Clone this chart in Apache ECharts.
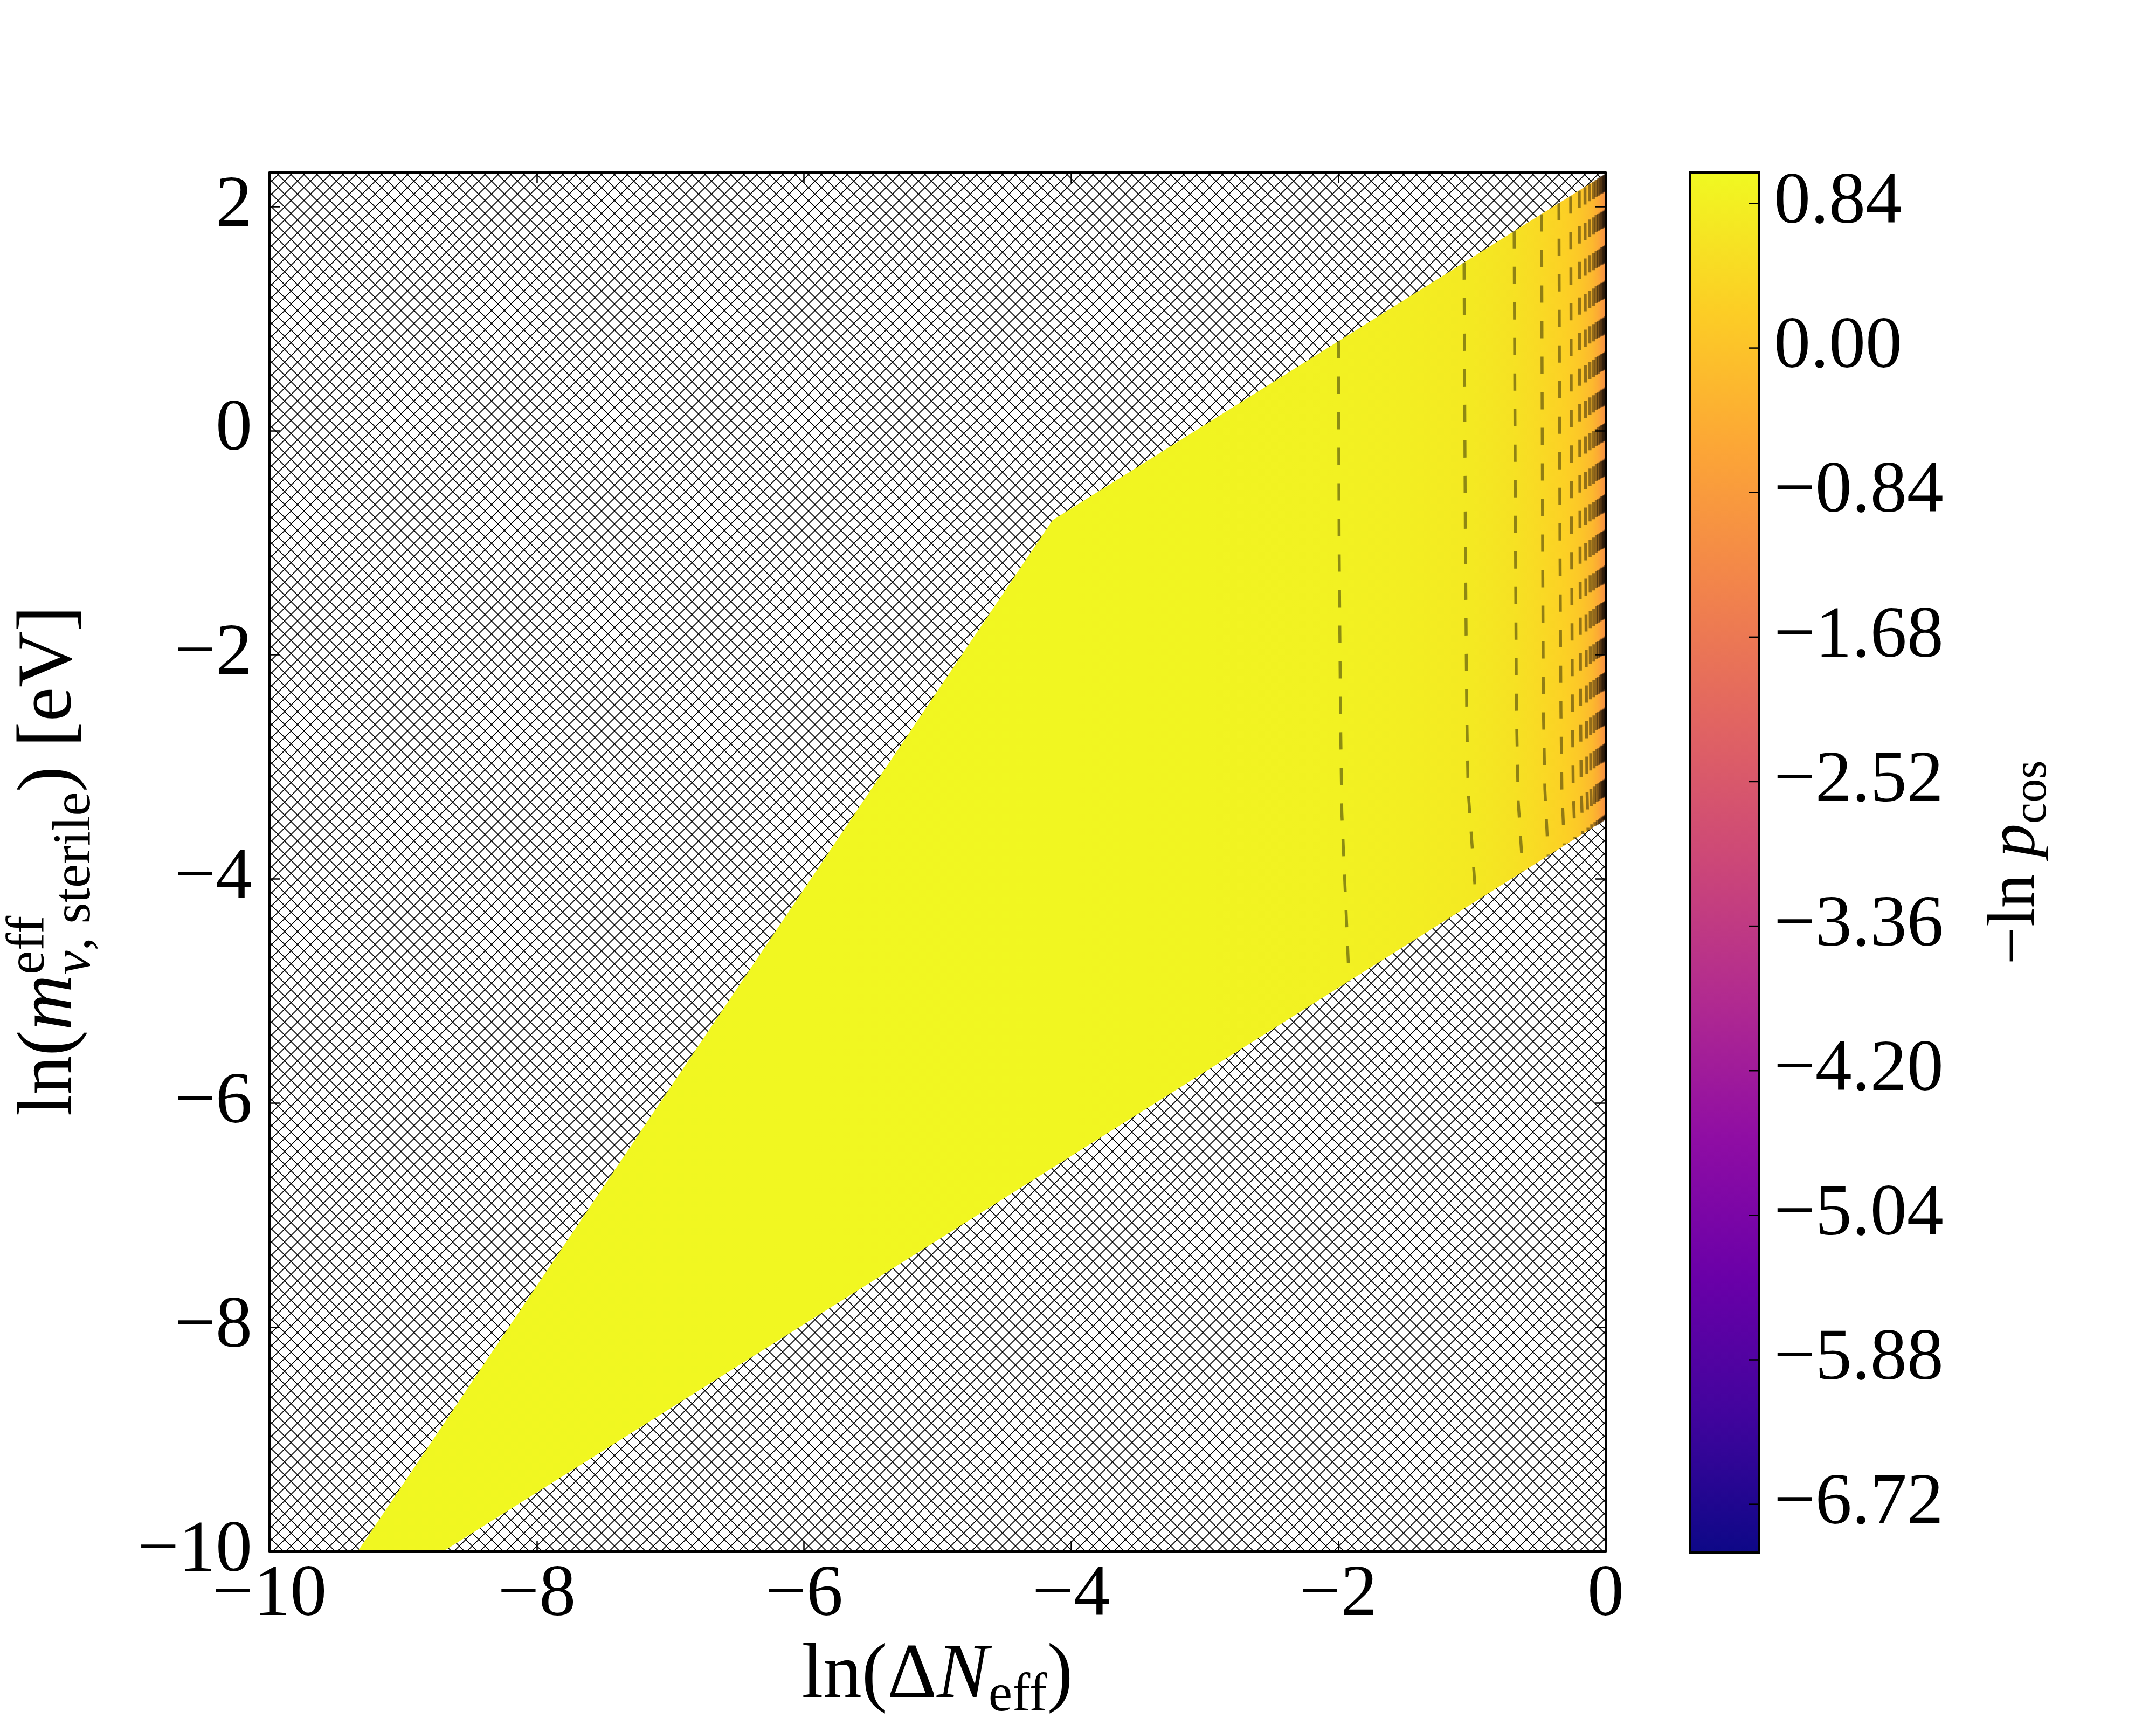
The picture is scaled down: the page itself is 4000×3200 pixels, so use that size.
<!DOCTYPE html>
<html>
<head>
<meta charset="utf-8">
<script src="https://cdn.jsdelivr.net/npm/echarts@6/dist/echarts.min.js"></script>
<style>
  html, body { margin: 0; padding: 0; background: #fff; }
  #main { width: 4000px; height: 3200px; }
</style>
</head>
<body>
<div id="main"></div>
<script>
// axis ticks
const xTicks = [-10, -8, -6, -4, -2, 0];
const yTicks = [-10, -8, -6, -4, -2, 0, 2];
const yMax = 2.302585; // ln(10)
const cbTicks = [-6.72, -5.88, -5.04, -4.20, -3.36, -2.52, -1.68, -0.84, 0.00, 0.84];
const cbRange = [-7.0, 1.02];

// allowed region (outline)
const regionX = [-9.34, -4.14, 0, 0, -8.70];
const regionY = [-10, -0.80, 2.29, -3.47, -10];

// -ln p_cos along ln(dN_eff) (it barely changes with mass)
const fieldX = [-10, -6, -4, -3, -2, -1.5, -1, -0.7, -0.5, -0.3, -0.2, -0.1, -0.05, 0];
const fieldVal = [0.99, 0.98, 0.96, 0.93, 0.88, 0.82, 0.72, 0.60, 0.45, 0.25, 0.10, -0.20, -0.55, -1.15];

// dashed contour lines, [x, y] points from top edge to bottom edge
const contours = [
  [[-2.00, 0.80], [-1.995, -1.0], [-1.985, -2.5], [-1.975, -3.4], [-1.92, -4.92]],
  [[-1.06, 1.50], [-1.05, -1.0], [-1.04, -2.5], [-1.03, -3.2], [-0.97, -4.20]],
  [[-0.685, 1.78], [-0.675, -1.0], [-0.668, -2.5], [-0.655, -3.3], [-0.62, -3.94]],
  [[-0.48, 1.93], [-0.472, -1.0], [-0.466, -2.5], [-0.455, -3.2], [-0.43, -3.80]],
  [[-0.35, 2.03], [-0.342, -1.0], [-0.335, -2.5], [-0.328, -3.2], [-0.31, -3.70]],
  [[-0.262, 2.09], [-0.255, -1.0], [-0.249, -2.5], [-0.243, -3.2], [-0.23, -3.64]],
  [[-0.198, 2.14], [-0.192, -1.0], [-0.188, -2.5], [-0.183, -3.2], [-0.172, -3.60]],
  [[-0.155, 2.17], [-0.150, -1.0], [-0.144, -2.5], [-0.140, -3.2], [-0.132, -3.57]],
  [[-0.120, 2.20], [-0.117, -1.0], [-0.114, -2.5], [-0.111, -3.2], [-0.104, -3.55]],
  [[-0.092, 2.22], [-0.090, -1.0], [-0.088, -2.5], [-0.086, -3.2], [-0.080, -3.53]],
  [[-0.072, 2.24], [-0.070, -1.0], [-0.068, -2.5], [-0.066, -3.2], [-0.062, -3.52]],
  [[-0.056, 2.25], [-0.054, -1.0], [-0.053, -2.5], [-0.051, -3.2], [-0.048, -3.51]],
  [[-0.043, 2.26], [-0.042, -1.0], [-0.041, -2.5], [-0.040, -3.2], [-0.037, -3.50]],
  [[-0.032, 2.27], [-0.031, -1.0], [-0.030, -2.5], [-0.029, -3.2], [-0.027, -3.49]],
  [[-0.023, 2.27], [-0.022, -1.0], [-0.021, -2.5], [-0.021, -3.2], [-0.019, -3.48]],
  [[-0.015, 2.28], [-0.015, -1.0], [-0.014, -2.5], [-0.014, -3.2], [-0.012, -3.48]],
  [[-0.009, 2.28], [-0.009, -1.0], [-0.008, -2.5], [-0.008, -3.2], [-0.007, -3.47]],
  [[-0.004, 2.29], [-0.004, -1.0], [-0.004, -2.5], [-0.004, -3.2], [-0.003, -3.47]]
];

const FONT = 'Liberation Serif';
const plasmaStops = ['#0d0887', '#41049d', '#6a00a8', '#8f0da4', '#b12a90', '#cc4778',
  '#e16462', '#f2844b', '#fca636', '#fcce25', '#f0f921'];

function hexRgb(h) {
  return [parseInt(h.slice(1, 3), 16), parseInt(h.slice(3, 5), 16), parseInt(h.slice(5, 7), 16)];
}
function plasma(t) {
  t = Math.min(1, Math.max(0, t));
  const p = t * 10, i = Math.min(9, Math.floor(p)), f = p - i;
  const a = hexRgb(plasmaStops[i]), b = hexRgb(plasmaStops[i + 1]);
  const c = a.map((v, k) => Math.round(v + (b[k] - v) * f));
  return 'rgb(' + c.join(',') + ')';
}
const valToT = v => (v - cbRange[0]) / (cbRange[1] - cbRange[0]);
const minus = v => (v < 0 ? '\u2212' : '');

// crosshatch tile
const hatch = document.createElement('canvas');
hatch.width = 24; hatch.height = 24;
(function () {
  const c = hatch.getContext('2d');
  c.strokeStyle = '#000';
  c.lineWidth = 1.6;
  c.beginPath();
  [-24, 0, 24].forEach(o => {
    c.moveTo(o, 0); c.lineTo(o + 24, 24);
    c.moveTo(o, 24); c.lineTo(o + 24, 0);
  });
  c.stroke();
})();

// math-like labels made of text runs
const mctx = document.createElement('canvas').getContext('2d');
function runFont(r) { return (r.i ? 'italic ' : '') + r.s + 'px "' + FONT + '"'; }
function layoutRuns(runs, x0, out) {
  let x = x0;
  runs.forEach(r => {
    if (r.stack) {
      x = Math.max(...r.stack.map(rs => layoutRuns(rs, x, out)));
    } else {
      mctx.font = runFont(r);
      out.push({ x: x, r: r });
      x += mctx.measureText(r.t).width;
    }
  });
  return x;
}
function mathLabel(runs, cx, cy, rotation) {
  const placed = [];
  const total = layoutRuns(runs, 0, placed);
  return {
    type: 'group', x: cx, y: cy, rotation: rotation,
    children: placed.map(p => ({
      type: 'text',
      x: p.x - total / 2,
      y: (p.r.dy || 0) - 0.3 * p.r.s,
      style: {
        text: p.r.t, fontSize: p.r.s, fontFamily: FONT,
        fontStyle: p.r.i ? 'italic' : 'normal', fill: '#000',
        align: 'left', verticalAlign: 'middle',
        textAlign: 'left', textVerticalAlign: 'middle'
      }
    }))
  };
}

const xLabelRuns = [
  { t: 'ln(', s: 143 }, { t: '\u0394', s: 143 }, { t: 'N', s: 143, i: true },
  { t: 'eff', s: 100, dy: 24 }, { t: ')', s: 143 }
];
const yLabelRuns = [
  { t: 'ln(', s: 143 }, { t: 'm', s: 143, i: true },
  { stack: [[{ t: 'eff', s: 100, dy: -51 }],
            [{ t: '\u03bd', s: 100, i: true, dy: 34 }, { t: ', sterile', s: 100, dy: 34 }]] },
  { t: ')', s: 143 }, { t: ' [eV]', s: 143 }
];
const cbLabelRuns = [
  { t: '\u2212ln ', s: 125 }, { t: 'p', s: 125, i: true }, { t: 'cos', s: 88, dy: 20 }
];

const chart = echarts.init(document.getElementById('main'));

const frameLine = { show: true, onZero: false, lineStyle: { color: '#000', width: 4 } };
const tickIn = { show: true, inside: true, length: 20, lineStyle: { color: '#000', width: 2.5 } };
const tickFont = { fontSize: 136, fontFamily: FONT, color: '#000' };

const contourSeries = contours.map(pts => ({
  type: 'line', xAxisIndex: 0, yAxisIndex: 0, z: 4,
  data: pts, showSymbol: false, symbol: 'none', silent: true,
  lineStyle: { color: 'rgba(0,0,0,0.42)', width: 5.5, type: [32, 34] }
}));

const option = {
  animation: false,
  backgroundColor: '#fff',
  grid: [
    { left: 500, top: 320, width: 2479, height: 2558 },
    { left: 3135, top: 320, width: 128, height: 2560 }
  ],
  xAxis: [
    { gridIndex: 0, type: 'value', min: -10, max: 0, interval: 2, position: 'bottom', z: 10,
      axisLine: frameLine, axisTick: tickIn, splitLine: { show: false },
      axisLabel: Object.assign({ margin: 14, formatter: v => minus(v) + Math.abs(v) }, tickFont) },
    { gridIndex: 0, type: 'value', min: -10, max: 0, interval: 2, position: 'top', z: 10,
      axisLine: frameLine, axisTick: tickIn, splitLine: { show: false }, axisLabel: { show: false } },
    { gridIndex: 1, type: 'value', min: 0, max: 1, show: false }
  ],
  yAxis: [
    { gridIndex: 0, type: 'value', min: -10, max: yMax, position: 'left', z: 10,
      axisLine: frameLine, splitLine: { show: false },
      axisTick: Object.assign({ customValues: yTicks }, tickIn),
      axisLabel: Object.assign({ margin: 32, customValues: yTicks,
        formatter: v => minus(v) + Math.abs(v) }, tickFont) },
    { gridIndex: 0, type: 'value', min: -10, max: yMax, position: 'right', z: 10,
      axisLine: frameLine, splitLine: { show: false },
      axisTick: Object.assign({ customValues: yTicks }, tickIn), axisLabel: { show: false } },
    { gridIndex: 1, type: 'value', min: cbRange[0], max: cbRange[1], position: 'right', z: 10,
      axisLine: { show: false }, splitLine: { show: false }, axisTick: { show: false },
      axisLabel: Object.assign({ margin: 28, customValues: cbTicks,
        formatter: v => minus(v) + Math.abs(v).toFixed(2) }, tickFont) }
  ],
  series: [
    { // hatched background (excluded area)
      type: 'custom', xAxisIndex: 0, yAxisIndex: 0, z: 1, silent: true,
      data: [[-10, 0, -10, yMax]],
      renderItem: (params, api) => {
        const p0 = api.coord([api.value(0), api.value(3)]);
        const p1 = api.coord([api.value(1), api.value(2)]);
        return { type: 'rect', shape: { x: p0[0], y: p0[1], width: p1[0] - p0[0], height: p1[1] - p0[1] },
          style: { fill: { image: hatch, repeat: 'repeat' } } };
      }
    },
    { // allowed region coloured by -ln p_cos
      type: 'custom', xAxisIndex: 0, yAxisIndex: 0, z: 2, silent: true,
      data: regionX.map((x, i) => [x, regionY[i]]),
      renderItem: (params, api) => {
        if (params.dataIndex !== 0) return;
        const pts = regionX.map((x, i) => api.coord([x, regionY[i]]));
        const xa = api.coord([fieldX[0], 0])[0];
        const xb = api.coord([fieldX[fieldX.length - 1], 0])[0];
        const stops = fieldX.map((x, i) => ({
          offset: (api.coord([x, 0])[0] - xa) / (xb - xa),
          color: plasma(valToT(fieldVal[i]))
        }));
        return { type: 'polygon', shape: { points: pts },
          style: { fill: { type: 'linear', x: xa, y: 0, x2: xb, y2: 0, global: true, colorStops: stops } } };
      }
    },
    { // colour bar
      type: 'custom', xAxisIndex: 2, yAxisIndex: 2, z: 2, silent: true,
      data: [[0, 1, cbRange[0], cbRange[1]]],
      renderItem: (params, api) => {
        const p0 = api.coord([api.value(0), api.value(3)]);
        const p1 = api.coord([api.value(1), api.value(2)]);
        const stops = plasmaStops.map((c, i) => ({ offset: 1 - i / 10, color: c }));
        return { type: 'rect', shape: { x: p0[0], y: p0[1], width: p1[0] - p0[0], height: p1[1] - p0[1] },
          style: { fill: { type: 'linear', x: 0, y: 0, x2: 0, y2: 1, colorStops: stops },
            stroke: '#000', lineWidth: 4 } };
      }
    },
    { // colour bar ticks, pointing into the bar from its right edge
      type: 'custom', xAxisIndex: 2, yAxisIndex: 2, z: 5, silent: true,
      data: cbTicks.map(v => [1, v]),
      renderItem: (params, api) => {
        const p = api.coord([api.value(0), api.value(1)]);
        return { type: 'line', shape: { x1: p[0] - 18, y1: p[1], x2: p[0], y2: p[1] },
          style: { stroke: '#000', lineWidth: 2.5 } };
      }
    }
  ].concat(contourSeries),
  graphic: [
    mathLabel(xLabelRuns, 1739, 3153, 0),
    mathLabel(yLabelRuns, 136, 1597, Math.PI / 2),
    mathLabel(cbLabelRuns, 3778, 1600, Math.PI / 2)
  ]
};

chart.setOption(option);
</script>
</body>
</html>
